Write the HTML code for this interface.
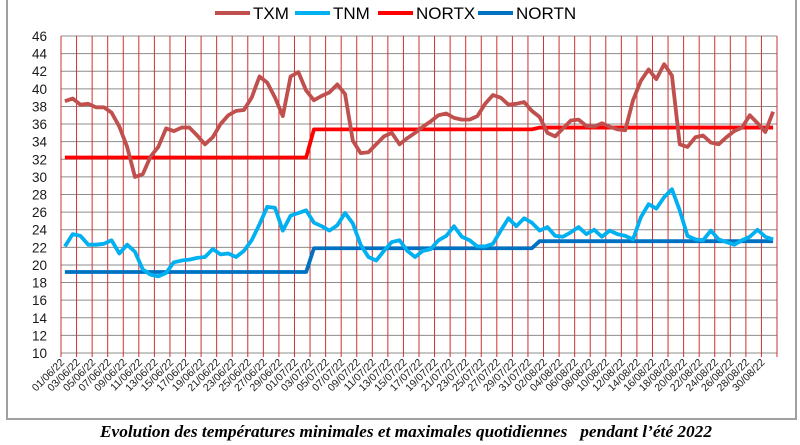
<!DOCTYPE html>
<html><head><meta charset="utf-8"><style>
body{margin:0;background:#fff;}
svg{display:block;font-family:"Liberation Sans",sans-serif;}
</style></head><body>
<svg id="chart" width="800" height="445" viewBox="0 0 800 445" xmlns="http://www.w3.org/2000/svg">
<rect x="7" y="-2" width="789" height="421" fill="#fff" stroke="#a0a0a0" stroke-width="2"/>
<g id="grid"></g><g id="axes"></g><g id="series"></g>
<g id="legend">
<line x1="215" y1="13" x2="250" y2="13" stroke="#c0504d" stroke-width="4"/><text x="253" y="19" font-size="17" fill="#000">TXM</text>
<line x1="295" y1="13" x2="330" y2="13" stroke="#00b0f0" stroke-width="4"/><text x="333" y="19" font-size="17" fill="#000">TNM</text>
<line x1="378" y1="13" x2="413" y2="13" stroke="#ff0000" stroke-width="4"/><text x="416" y="19" font-size="17" fill="#000">NORTX</text>
<line x1="478" y1="13" x2="513" y2="13" stroke="#0070c0" stroke-width="4"/><text x="516" y="19" font-size="17" fill="#000">NORTN</text>
</g>
<text x="406" y="437" text-anchor="middle" font-family="Liberation Serif,serif" font-weight="bold" font-style="italic" font-size="16.5" textLength="612" lengthAdjust="spacingAndGlyphs">Evolution des températures minimales et maximales quotidiennes &#160; pendant l’été 2022</text>
</svg>
<script>
const yTicks=[10,12,14,16,18,20,22,24,26,28,30,32,34,36,38,40,42,44,46];
const txm=[38.6,38.9,38.2,38.3,37.9,37.9,37.3,35.7,33.4,30.0,30.3,32.3,33.4,35.5,35.2,35.6,35.6,34.7,33.7,34.5,36.0,37.0,37.5,37.6,39.0,41.4,40.7,39.0,36.9,41.4,41.9,39.8,38.7,39.2,39.6,40.5,39.4,34.1,32.7,32.8,33.7,34.6,35.0,33.7,34.4,35.0,35.7,36.3,37.0,37.2,36.7,36.5,36.5,36.9,38.3,39.3,39.0,38.2,38.3,38.5,37.5,36.8,35.0,34.6,35.5,36.4,36.5,35.8,35.7,36.1,35.7,35.4,35.3,38.7,40.9,42.2,41.1,42.8,41.5,33.7,33.4,34.5,34.7,33.9,33.7,34.5,35.2,35.6,37.0,36.1,35.1,37.4];
const tnm=[22.1,23.5,23.3,22.3,22.3,22.4,22.8,21.3,22.3,21.5,19.5,18.9,18.7,19.1,20.3,20.5,20.6,20.8,20.9,21.8,21.2,21.3,20.9,21.6,22.8,24.6,26.6,26.5,23.9,25.6,25.9,26.2,24.8,24.4,23.9,24.5,25.9,24.7,22.3,20.9,20.5,21.6,22.6,22.8,21.6,20.9,21.6,21.8,22.8,23.3,24.4,23.2,22.8,22.1,22.1,22.4,23.9,25.3,24.4,25.3,24.8,23.9,24.3,23.3,23.2,23.7,24.3,23.5,24.0,23.2,23.9,23.5,23.3,22.9,25.4,26.9,26.4,27.7,28.6,26.2,23.3,22.9,22.8,23.9,22.9,22.6,22.3,22.8,23.2,24.0,23.2,22.9];
const nortx=[];const nortn=[];
for(let i=0;i<92;i++){nortx.push(i<=31?32.2:(i<=60?35.4:35.6));nortn.push(i<=31?19.2:(i<=60?21.9:22.7));}
const months=["06","07","08"];const mdays=[30,31,31];
const dates=[];mdays.forEach((n,m)=>{for(let d=1;d<=n;d++)dates.push(String(d).padStart(2,"0")+"/"+months[m]+"/22");});
const X0=61,X1=777,Y0=353,Y1=36,N=92,VMIN=10,VMAX=46;
const cw=(X1-X0)/N;
const xs=i=>X0+cw*(i+0.5);
const ys=v=>Y0-(v-VMIN)/(VMAX-VMIN)*(Y0-Y1);
const NS="http://www.w3.org/2000/svg";
function mk(t,a,p){const e=document.createElementNS(NS,t);for(const k in a)e.setAttribute(k,a[k]);p.appendChild(e);return e;}
const grid=document.getElementById("grid"),axes=document.getElementById("axes"),ser=document.getElementById("series");
yTicks.forEach(v=>{
const l=mk("line",{x1:X0,x2:X1,y1:ys(v),y2:ys(v),stroke:"#8c8c8c","stroke-width":1},grid);


const t=mk("text",{x:47,y:ys(v)+5,"text-anchor":"end","font-size":13.5,fill:"#1a1a1a"},axes);t.textContent=v;


});
for(let i=0;i<=N;i+=2){
const x=X0+cw*i;
const l=mk("line",{x1:x,x2:x,y1:Y1,y2:Y0+4,stroke:"#d03030","stroke-width":1},grid);


if(i<N){const t=mk("text",{x:x+4,y:Y0+10,"text-anchor":"end","font-size":10.5,fill:"#1a1a1a",transform:`rotate(-45 ${x+4} ${Y0+10})`},axes);t.textContent=dates[i];

}
}
function line(arr,col,w,name){
const p=mk("polyline",{points:arr.map((v,i)=>xs(i)+","+ys(v)).join(" "),fill:"none",stroke:col,"stroke-width":w,"stroke-linejoin":"round"},ser);


}
line(nortx,"#ff0000",3.8,"nortx-line");
line(nortn,"#0070c0",3.8,"nortn-line");
line(txm,"#c0504d",3.8,"txm-line");
line(tnm,"#00b0f0",3.8,"tnm-line");
</script>
</body></html>
